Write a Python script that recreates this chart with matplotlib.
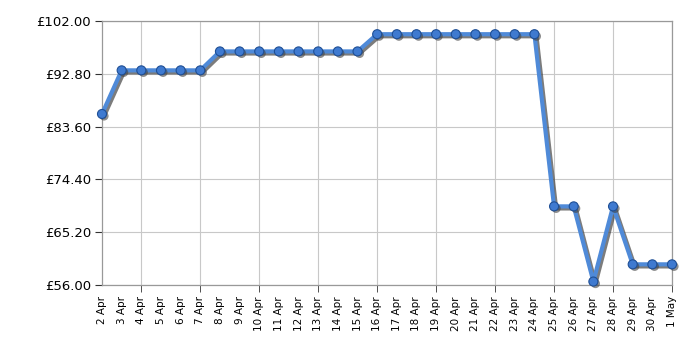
import matplotlib
matplotlib.use('Agg')
import matplotlib.pyplot as plt
import matplotlib.patheffects as pe
import numpy as np

days = ['2 Apr', '3 Apr', '4 Apr', '5 Apr', '6 Apr', '7 Apr', '8 Apr', '9 Apr',
        '10 Apr', '11 Apr', '12 Apr', '13 Apr', '14 Apr', '15 Apr', '16 Apr',
        '17 Apr', '18 Apr', '19 Apr', '20 Apr', '21 Apr', '22 Apr', '23 Apr',
        '24 Apr', '25 Apr', '26 Apr', '27 Apr', '28 Apr', '29 Apr', '30 Apr', '1 May']
prices = [85.8, 93.4, 93.4, 93.4, 93.4, 93.4, 96.7, 96.7, 96.7, 96.7, 96.7, 96.7,
          96.7, 96.7, 99.7, 99.7, 99.7, 99.7, 99.7, 99.7, 99.7, 99.7, 99.7,
          69.7, 69.7, 56.6, 69.7, 59.6, 59.6, 59.6]
yticks = [56.0, 65.2, 74.4, 83.6, 92.8, 102.0]

fig = plt.figure(figsize=(7, 3.5), dpi=100)
ax = fig.add_axes([102/700, 1-285/350, 570/700, 264/350])

x = np.arange(len(days))
shadow = [pe.SimpleLineShadow(offset=(1.5, -1.5), shadow_color='#444444', alpha=0.7), pe.Normal()]
ax.plot(x, prices, color='#4f8ad8', lw=3, path_effects=shadow, zorder=3)
ax.plot(x, prices, ls='none', marker='o', ms=6.5, mfc='#3f7ad0', mec='#1f4f95', mew=0.8,
        path_effects=[pe.SimplePatchShadow(offset=(1.5, -1.5), shadow_rgbFace='#444444', alpha=0.6), pe.Normal()],
        zorder=4, clip_on=False)

ax.set_xlim(0, len(days)-1)
ax.set_ylim(56, 102)
ax.set_yticks(yticks)
ax.set_yticklabels(['£%.2f' % v for v in yticks], fontsize=9.5)
ax.set_xticks(x)
ax.set_xticklabels(days, rotation=90, fontsize=7.5)
ax.set_xticks(x[2::3], minor=True)
ax.xaxis.remove_overlapping_locs = False

# gridlines every third day starting at 4 Apr
for xi in x[2::3]:
    ax.axvline(xi, color='#c8c8c8', lw=0.8, zorder=1)
for yv in yticks:
    ax.axhline(yv, color='#c8c8c8', lw=0.8, zorder=1)

ax.tick_params(axis='x', which='major', length=0, pad=8)
ax.tick_params(axis='x', which='minor', length=5, color='#333333')
ax.tick_params(axis='y', length=5, color='#333333', pad=3)
for s in ax.spines.values():
    s.set_color('#999999')
    s.set_linewidth(0.9)

fig.savefig('out.png', dpi=100)
